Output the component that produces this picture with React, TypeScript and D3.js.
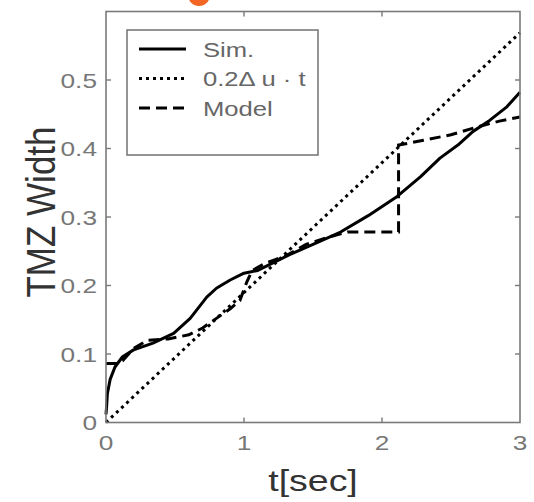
import React from 'react';
import * as d3 from 'd3';

// series (t in sec, width)
const simT = [0, 0.005, 0.01, 0.03, 0.065, 0.12, 0.2, 0.34, 0.49, 0.61, 0.73, 0.8, 0.9, 1.0, 1.1, 1.33, 1.5, 1.7, 1.9, 2.11, 2.28, 2.42, 2.55, 2.66, 2.78, 2.9, 3.0];
const simW = [0.012, 0.025, 0.042, 0.063, 0.081, 0.096, 0.106, 0.116, 0.13, 0.152, 0.183, 0.196, 0.208, 0.218, 0.222, 0.245, 0.26, 0.278, 0.302, 0.33, 0.359, 0.386, 0.405, 0.425, 0.441, 0.46, 0.482];

const modelT = [0, 0.08, 0.12, 0.2, 0.3, 0.45, 0.6, 0.7, 0.8, 0.9, 0.97, 1.02, 1.06, 1.15, 1.3, 1.45, 1.6, 1.75, 2.12, 2.12, 2.3, 2.5, 2.7, 2.85, 3.0];
const modelW = [0.086, 0.086, 0.09, 0.108, 0.12, 0.122, 0.128, 0.138, 0.152, 0.166, 0.178, 0.205, 0.222, 0.232, 0.243, 0.26, 0.27, 0.278, 0.278, 0.405, 0.412, 0.42, 0.432, 0.44, 0.446];

const linT = [0, 3];
const linW = [0, 0.569];

const xTicks = [0, 1, 2, 3];
const yTicks = [0, 0.1, 0.2, 0.3, 0.4, 0.5];
const legendLabels = ['Sim.', '0.2\u0394 u \u00b7 t', 'Model'];
const legendDash = ['none', '3 4', '11 6'];

const W = 534, H = 502;
const left = 106, right = 520, top = 11.5, bottom = 422.5;
const SX = 1.25; // the picture is stretched sideways

export default function App() {
  const x = d3.scaleLinear().domain([0, 3]).range([left, right]);
  const y = d3.scaleLinear().domain([0, 0.6]).range([bottom, top]);

  const line = d3.line<[number, number]>().x(d => x(d[0])).y(d => y(d[1]));
  const sim = line(simT.map((t, i) => [t, simW[i]]));
  const model = line(modelT.map((t, i) => [t, modelW[i]]));
  const lin = line(linT.map((t, i) => [t, linW[i]]));

  const font = 'Liberation Sans, Arial, sans-serif';
  const frame = '#7a7a7a';
  const tickCol = '#777';

  return (
    <svg width={W} height={H} style={{ position: 'absolute', left: 0, top: 0 }}>
      <rect width={W} height={H} fill="#fff" />
      <circle cx={199} cy={-5} r={11} fill="#f26522" />

      <g fill="none" stroke="#000" strokeWidth={3}>
        <path d={lin ?? ''} strokeDasharray="3 4" />
        <path d={model ?? ''} strokeDasharray="11 6" />
        <path d={sim ?? ''} strokeLinejoin="round" />
      </g>

      <rect x={left} y={top} width={right - left} height={bottom - top} fill="none" stroke={frame} strokeWidth={1.6} />

      {xTicks.slice(1, -1).map(t => (
        <g key={'xt' + t} stroke={frame} strokeWidth={1.4}>
          <line x1={x(t)} x2={x(t)} y1={bottom} y2={bottom - 5} />
          <line x1={x(t)} x2={x(t)} y1={top} y2={top + 5} />
        </g>
      ))}
      {yTicks.slice(1).map(v => (
        <g key={'yt' + v} stroke={frame} strokeWidth={1.4}>
          <line x1={left} x2={left + 5} y1={y(v)} y2={y(v)} />
          <line x1={right} x2={right - 5} y1={y(v)} y2={y(v)} />
        </g>
      ))}

      {xTicks.map(t => (
        <text key={'xl' + t} transform={`translate(${x(t)},450) scale(${SX},1)`} textAnchor="middle"
          fontFamily={font} fontSize={21} fill={tickCol}>{t}</text>
      ))}
      {yTicks.map(v => (
        <text key={'yl' + v} transform={`translate(97,${y(v) + 7.5}) scale(${SX},1)`} textAnchor="end"
          fontFamily={font} fontSize={21} fill={tickCol}>{v}</text>
      ))}

      <text transform={`translate(${(left + right) / 2},491) scale(${SX},1)`} textAnchor="middle"
        fontFamily={font} fontSize={30} fill="#333">t[sec]</text>
      <text transform="translate(55,212) rotate(-90) scale(1,1.15)" textAnchor="middle"
        fontFamily={font} fontSize={35} fill="#333">TMZ Width</text>

      <rect x={127} y={30} width={191} height={125} fill="#fff" stroke={frame} strokeWidth={1.6} />
      {legendLabels.map((lab, i) => {
        const ly = 49 + i * 29.5;
        return (
          <g key={lab}>
            <line x1={139} x2={186} y1={ly} y2={ly} stroke="#000" strokeWidth={3}
              strokeDasharray={legendDash[i] === 'none' ? undefined : legendDash[i]} />
            <text transform={`translate(203,${ly + 7.5}) scale(${SX},1)`} fontFamily={font} fontSize={20.5}
              fill="#666">{lab}</text>
          </g>
        );
      })}
    </svg>
  );
}
